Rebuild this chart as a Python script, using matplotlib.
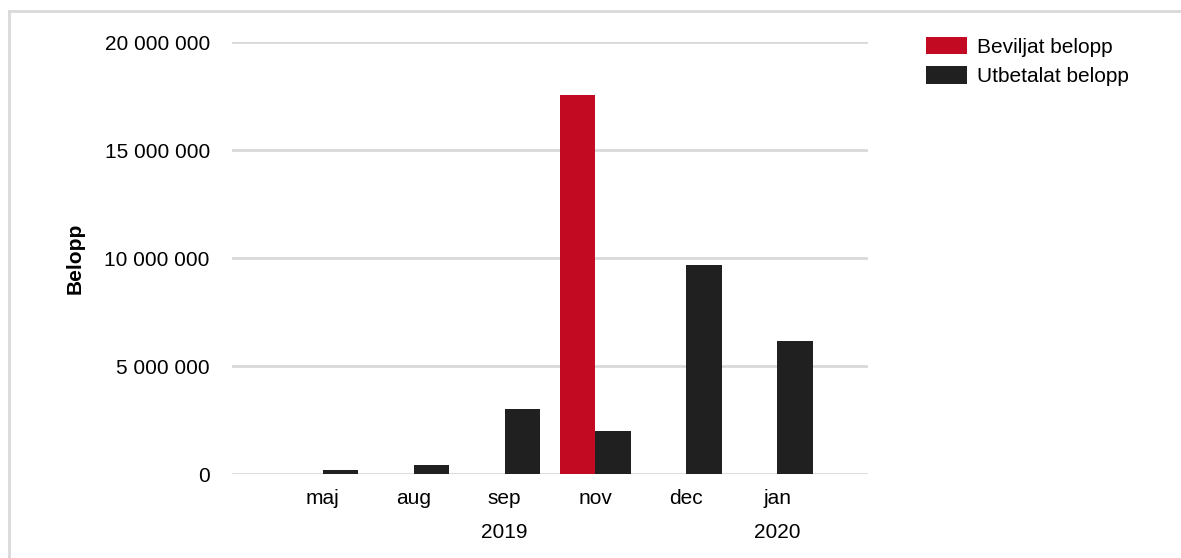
import matplotlib
matplotlib.use("Agg")
import matplotlib.pyplot as plt
from matplotlib.lines import Line2D
from matplotlib.ticker import FuncFormatter
import numpy as np

months = ["maj", "aug", "sep", "nov", "dec", "jan"]
years = ["2019", "2020"]
year_pos = [2, 5]
beviljat = [0, 0, 0, 17550000, 0, 0]
utbetalat = [190000, 420000, 3000000, 2000000, 9680000, 6150000]
yticks = [0, 5000000, 10000000, 15000000, 20000000]

RED = "#c20a22"
BLACK = "#202020"
GRID = "#d9d9d9"
FS = 15

plt.rcParams["font.family"] = ["Liberation Sans", "DejaVu Sans"]

W, H = 1181, 558
fig = plt.figure(figsize=(W / 100, H / 100), dpi=100)
ax = fig.add_axes([232 / W, 84 / H, 636 / W, 432 / H])

x = np.arange(len(months))
wd = 0.39
b1 = ax.bar(x - wd / 2, beviljat, wd, color=RED, label="Beviljat belopp", zorder=3)
b2 = ax.bar(x + wd / 2, utbetalat, wd, color=BLACK, label="Utbetalat belopp", zorder=3)

ax.set_xlim(-1, 6)
ax.set_ylim(0, 20000000)
ax.set_yticks(yticks)
ax.yaxis.set_major_formatter(FuncFormatter(lambda v, p: f"{int(v):,}".replace(",", " ")))
ax.set_xticks(x)
ax.set_xticklabels(months)
ax.tick_params(axis="both", length=0, labelsize=FS, colors="black")
ax.tick_params(axis="y", pad=16)
ax.tick_params(axis="x", pad=11)
ax.grid(True, axis="y", color=GRID, linewidth=2, zorder=0)
for s in ax.spines.values():
    s.set_visible(False)

for yr, p in zip(years, year_pos):
    ax.text(p, -0.135, yr, transform=ax.get_xaxis_transform(), ha="center", va="center", fontsize=FS)

fig.text(75 / W, 1 - 258 / H, "Belopp", rotation=90, ha="center", va="center",
         fontsize=FS, fontweight="bold")

fig.legend(handles=[b1, b2], loc="upper left", bbox_to_anchor=(922 / W, 1 - 33 / H),
           frameon=False, fontsize=FS, handlelength=1.95, handleheight=0.9,
           handletextpad=0.5, labelspacing=0.45, borderaxespad=0, borderpad=0.2)

fig.add_artist(Line2D([9 / W, 9 / W], [0, 1 - 11 / H], transform=fig.transFigure, color=GRID, lw=2))
fig.add_artist(Line2D([9 / W, 1], [1 - 11 / H, 1 - 11 / H], transform=fig.transFigure, color=GRID, lw=2))

fig.savefig("out.png", dpi=100)
